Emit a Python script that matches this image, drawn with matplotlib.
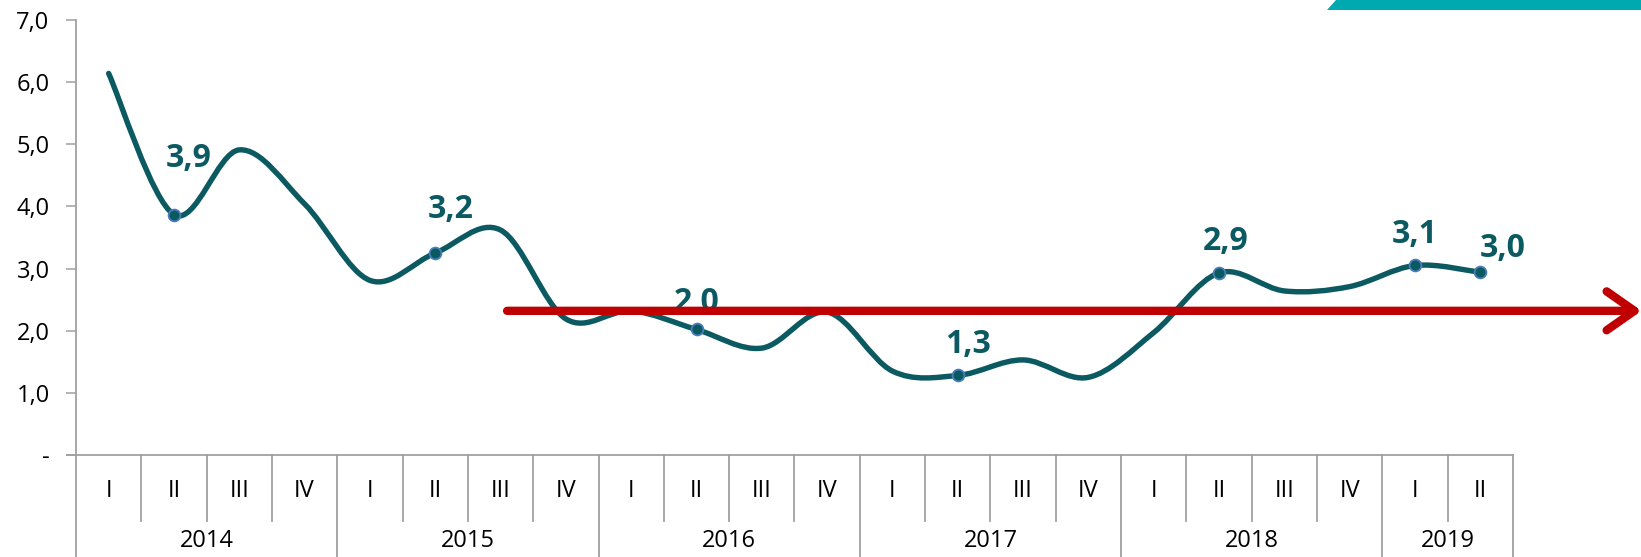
import matplotlib
matplotlib.use("Agg")
import matplotlib.pyplot as plt
import numpy as np
from matplotlib.path import Path
from matplotlib.patches import PathPatch, Polygon, FancyArrowPatch
from matplotlib.transforms import blended_transform_factory

# data
years = ["2014", "2015", "2016", "2017", "2018", "2019"]
quarters_per_year = [4, 4, 4, 4, 4, 2]
quarter_names = ["I", "II", "III", "IV"]
values = [6.14, 3.87, 4.91, 4.04, 2.81, 3.25, 3.62, 2.19, 2.32, 2.02, 1.72,
          2.30, 1.35, 1.28, 1.53, 1.25, 1.97, 2.93, 2.64, 2.71, 3.05, 2.94]
labelled = [1, 5, 9, 13, 17, 20, 21]
label_texts = ["3,9", "3,2", "2,0", "1,3", "2,9", "3,1", "3,0"]
yticks = [0, 1, 2, 3, 4, 5, 6, 7]
ytick_labels = ["-", "1,0", "2,0", "3,0", "4,0", "5,0", "6,0", "7,0"]
trend_level = 2.32
trend_start = 6.1

# label offsets in pixels (style)
label_offsets = [(15, 56), (15, 44), (0, 27), (10, 31), (7, 31), (0, 31), (22, 24)]

line_col = "#0B5A62"
red = "#C00000"
grid_col = "#A0A0A0"
font = "Open Sans"

plt.rcParams["font.family"] = [font, "DejaVu Sans"]

fig = plt.figure(figsize=(16.41, 5.57), dpi=100)
W, H = 1641, 557
ax = fig.add_axes([76 / W, (H - 455) / H, (1513 - 76) / W, 435 / H])
n = len(values)
ax.set_xlim(-0.5, n - 0.5)
ax.set_ylim(0, 7)

# smooth line like Excel (cubic bezier through points)
pts = np.column_stack([np.arange(n), values])
ext = np.vstack([pts[0], pts, pts[-1]])
verts = [pts[0]]
codes = [Path.MOVETO]
for i in range(n - 1):
    p0, p1, p2, p3 = ext[i], ext[i + 1], ext[i + 2], ext[i + 3]
    verts += [p1 + (p2 - p0) / 6, p2 - (p3 - p1) / 6, p2]
    codes += [Path.CURVE4] * 3
ax.add_patch(PathPatch(Path(verts, codes), facecolor="none", edgecolor=line_col,
                       lw=3.9, capstyle="round", joinstyle="round", zorder=3))

lx = [i for i in labelled]
ly = [values[i] for i in labelled]
ax.plot(lx, ly, "o", ms=8.5, mfc=line_col, mec="#4A7EBB", mew=1.3, zorder=4)
for i, t, (dx, dy) in zip(labelled, label_texts, label_offsets):
    ax.annotate(t, (i, values[i]), xytext=(dx * 0.72, dy * 0.72), textcoords="offset points",
                ha="center", va="center", fontsize=23, fontweight="bold",
                color=line_col, zorder=4)

# red trend arrow
arr = FancyArrowPatch((trend_start, trend_level), (23.47, trend_level),
                      arrowstyle="->,head_length=1.0,head_width=0.7", mutation_scale=20,
                      lw=6.0, color=red, shrinkA=0, shrinkB=0, clip_on=False, zorder=6)
arr.set_capstyle("round")
ax.add_patch(arr)

# axes styling
for s in ["top", "right", "bottom"]:
    ax.spines[s].set_visible(False)
ax.spines["left"].set_color(grid_col)
ax.spines["left"].set_linewidth(1.3)
ax.set_yticks(yticks)
ax.set_yticklabels(ytick_labels)
ax.tick_params(axis="y", length=7, width=1.1, color=grid_col, pad=12, labelsize=17)
ax.set_xticks([])

# category table below the axis
tr = blended_transform_factory(ax.transData, ax.transAxes)
ax.plot([-0.5 - 0.14, n - 0.5], [0, 0], transform=tr, color=grid_col, lw=1.3, clip_on=False)
pos = 0
for y, nq in zip(years, quarters_per_year):
    ax.plot([pos - 0.5, pos - 0.5], [0, -0.25], transform=tr, color=grid_col, lw=1.3, clip_on=False)
    for q in range(nq):
        if q > 0:
            ax.plot([pos + q - 0.5] * 2, [0, -0.152], transform=tr, color=grid_col,
                    lw=1.3, clip_on=False)
        ax.text(pos + q, -0.083, quarter_names[q], transform=tr, ha="center", va="center",
                fontsize=17)
    ax.text(pos + (nq - 1) / 2, -0.198, y, transform=tr, ha="center", va="center", fontsize=17)
    pos += nq
ax.plot([n - 0.5, n - 0.5], [0, -0.25], transform=tr, color=grid_col, lw=1.3, clip_on=False)

# teal stripe top right
stripe = Polygon([(1327 / W, (H - 10) / H), (1336 / W, 1.0), (1.0, 1.0), (1.0, (H - 10) / H)],
                 closed=True, transform=fig.transFigure, facecolor="#00A8B0", edgecolor="none")
fig.patches.append(stripe)

fig.savefig("out.png", dpi=100)
